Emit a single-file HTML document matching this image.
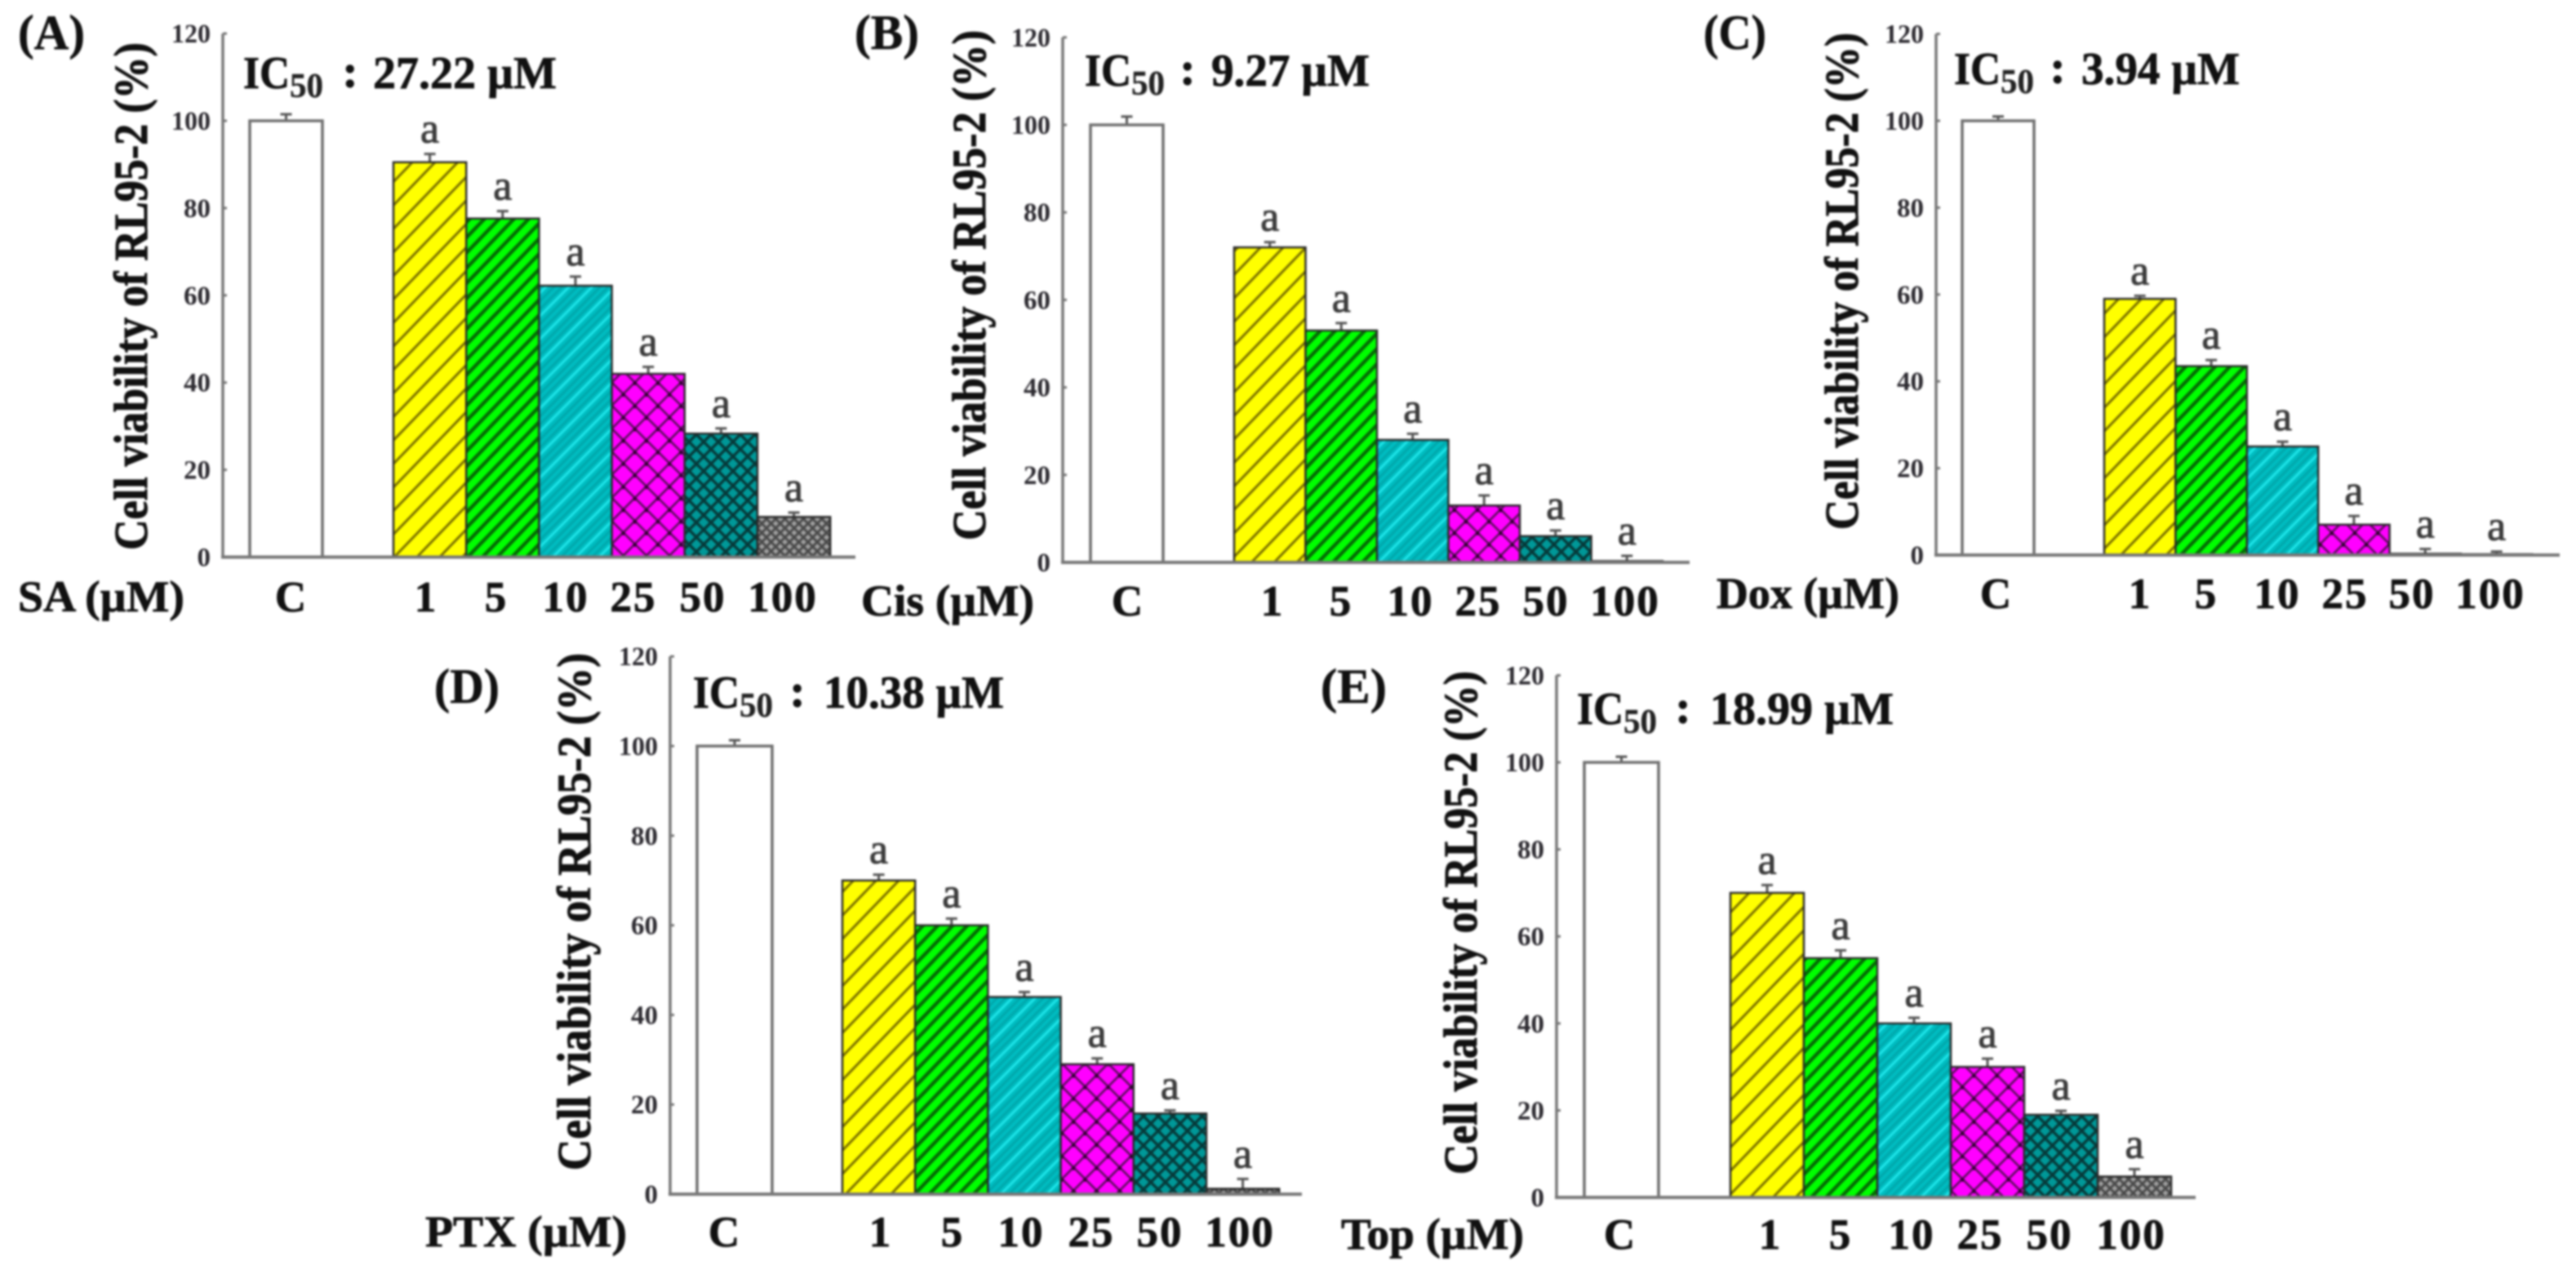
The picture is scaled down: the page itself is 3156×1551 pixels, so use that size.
<!DOCTYPE html>
<html lang="en">
<head>
<meta charset="utf-8">
<title>Cell viability of RL95-2</title>
<style>
html,body{margin:0;padding:0;background:#fff;width:3156px;height:1551px;overflow:hidden}
#figure{display:block;filter:blur(1.3px)}
text{font-family:"Liberation Serif","DejaVu Serif",serif}
</style>
</head>
<body>
<svg id="figure" xmlns="http://www.w3.org/2000/svg" width="3156" height="1551" viewBox="0 0 3156 1551">
<defs>
<pattern id="hatch-yellow" patternUnits="userSpaceOnUse" width="20" height="20" patternTransform="rotate(44)">
<rect width="20" height="20" fill="#ffff00"/><rect y="0" width="3" height="20" fill="#7a7000"/>
</pattern>
<pattern id="hatch-green" patternUnits="userSpaceOnUse" width="13" height="13" patternTransform="rotate(44)">
<rect width="13" height="13" fill="#00ff00"/><rect y="0" width="4.5" height="13" fill="#056b05"/>
</pattern>
<pattern id="hatch-cyan" patternUnits="userSpaceOnUse" width="20" height="20" patternTransform="rotate(45)">
<rect width="20" height="20" fill="#00bcc0"/><rect y="0" width="3" height="20" fill="#1fe4e8"/><rect x="7" width="3" height="20" fill="#00a8ac"/><rect x="14" width="3" height="20" fill="#00a8ac"/>
</pattern>
<pattern id="hatch-magenta" patternUnits="userSpaceOnUse" width="20" height="20" patternTransform="rotate(45)">
<rect width="20" height="20" fill="#ff00ff"/><rect width="2.6" height="20" fill="#5a105a"/><rect width="20" height="2.6" fill="#5a105a"/><rect width="5" height="5" x="-1" y="-1" fill="#300030"/>
</pattern>
<pattern id="hatch-teal" patternUnits="userSpaceOnUse" width="12.7" height="12.7" patternTransform="rotate(45)">
<rect width="12.7" height="12.7" fill="#009898"/><rect width="3.5" height="12.7" fill="#063a3a"/><rect width="12.7" height="3.5" fill="#063a3a"/>
</pattern>
<pattern id="hatch-gray" patternUnits="userSpaceOnUse" width="8" height="8" patternTransform="rotate(45)">
<rect width="8" height="8" fill="#a0a0a0"/><rect width="3" height="8" fill="#4a4a4a"/><rect width="8" height="3" fill="#4a4a4a"/>
</pattern>
</defs>
</svg>
<script>
var categories = ['C', '1', '5', '10', '25', '50', '100'];
var yTickValues = [0, 20, 40, 60, 80, 100, 120];
var yAxisTitle = 'Cell viability of RL95-2 (%)';

var saValues  = [100, 90.5, 77.6, 62.2, 42, 28.3, 9.2];
var saErrors  = [1.5, 1.9, 1.7, 2.1, 1.6, 1.2, 1];
var cisValues = [100, 72, 53, 28, 13, 6, 0.3];
var cisErrors = [1.9, 1.2, 1.7, 1.4, 2.3, 1.3, 1.2];
var doxValues = [100, 59, 43.5, 25, 7, 0.3, 0.2];
var doxErrors = [1, 0.7, 1.4, 1.1, 2, 1.1, 0.6];
var ptxValues = [100, 70, 60, 44, 29, 18, 1.2];
var ptxErrors = [1.3, 1.3, 1.5, 1.1, 1.3, 0.7, 2.2];
var topValues = [100, 70, 55, 40, 30, 19, 4.8];
var topErrors = [1.3, 1.8, 1.8, 1.3, 1.9, 0.9, 1.7];

var significanceLetters = ['', 'a', 'a', 'a', 'a', 'a', 'a'];
var barFills = ['#ffffff', 'url(#hatch-yellow)', 'url(#hatch-green)', 'url(#hatch-cyan)', 'url(#hatch-magenta)', 'url(#hatch-teal)', 'url(#hatch-gray)'];

/* Panel layout only: axes frames and text anchors. Data stays in the arrays above. */
var panels = [
  {key:'a', tag:'(A)', treatment:'SA (\u00b5M)', ic:'27.22 \u00b5M', values:saValues, errors:saErrors,
   axisX:273, axisEnd:1048, y0:682.5, unit:5.345, cLeft:306, cWidth:89, barLeft:482, barWidth:89.2,
   catX:[357,522,608,693,776,861,959], catY:749,
   tagX:22, tagW:82, tagY:60, prefixX:22, prefixW:204, titleX:180, titleBottom:674, titleTop:52,
   icX:298, icY:108, colonX:429, icValX:457, icValW:225},
  {key:'b', tag:'(B)', treatment:'Cis (\u00b5M)', ic:'9.27 \u00b5M', values:cisValues, errors:cisErrors,
   axisX:1302, axisEnd:2070, y0:689, unit:5.36, cLeft:1336, cWidth:89, barLeft:1512, barWidth:87.5,
   catX:[1382,1559,1643,1728,1811,1894,1991], catY:754,
   tagX:1047, tagW:79, tagY:60, prefixX:1055, prefixW:212, titleX:1207, titleBottom:662, titleTop:37,
   icX:1329, icY:105, colonX:1455, icValX:1484, icValW:194},
  {key:'c', tag:'(C)', treatment:'Dox (\u00b5M)', ic:'3.94 \u00b5M', values:doxValues, errors:doxErrors,
   axisX:2372, axisEnd:3136, y0:680, unit:5.32, cLeft:2404, cWidth:88, barLeft:2578, barWidth:87.4,
   catX:[2446,2622,2703,2790,2873,2955,3051], catY:745,
   tagX:2087, tagW:77, tagY:60, prefixX:2103, prefixW:224, titleX:2276, titleBottom:649, titleTop:40,
   icX:2394, icY:103, colonX:2521, icValX:2550, icValW:194},
  {key:'d', tag:'(D)', treatment:'PTX (\u00b5M)', ic:'10.38 \u00b5M', values:ptxValues, errors:ptxErrors,
   axisX:821, axisEnd:1595, y0:1463, unit:5.49, cLeft:854, cWidth:92, barLeft:1032, barWidth:89.2,
   catX:[888,1079,1167,1251,1337,1421,1519], catY:1527,
   tagX:532, tagW:80, tagY:861, prefixX:521, prefixW:247, titleX:723, titleBottom:1434, titleTop:800,
   icX:849, icY:867, colonX:977, icValX:1009, icValW:221},
  {key:'e', tag:'(E)', treatment:'Top (\u00b5M)', ic:'18.99 \u00b5M', values:topValues, errors:topErrors,
   axisX:1907, axisEnd:2690, y0:1467, unit:5.33, cLeft:1941, cWidth:91, barLeft:2120, barWidth:90,
   catX:[1985,2169,2255,2342,2426,2511,2611], catY:1530,
   tagX:1618, tagW:81, tagY:861, prefixX:1643, prefixW:224, titleX:1809, titleBottom:1439, titleTop:822,
   icX:1932, icY:887, colonX:2062, icValX:2095, icValW:225}
];

var SVG_NS = 'http://www.w3.org/2000/svg';
var root = document.getElementById('figure');

function yScale(p, v) { return p.y0 - v * p.unit; }
function xLeft(p, i) { return i === 0 ? p.cLeft : p.barLeft + (i - 1) * p.barWidth; }
function bandWidth(p, i) { return i === 0 ? p.cWidth : p.barWidth; }

function makeEl(parent, tag) {
  var el = document.createElementNS(SVG_NS, tag);
  parent.appendChild(el);
  return el;
}
function makeLine(parent, x1, y1, x2, y2, color, w) {
  var l = makeEl(parent, 'line');
  l.setAttribute('x1', x1); l.setAttribute('y1', y1);
  l.setAttribute('x2', x2); l.setAttribute('y2', y2);
  l.setAttribute('stroke', color); l.setAttribute('stroke-width', w);
  return l;
}
function makeText(parent, str, x, y, size, weight, anchor, fill, len, thicken) {
  var t = makeEl(parent, 'text');
  t.textContent = str;
  t.setAttribute('x', x); t.setAttribute('y', y);
  t.setAttribute('font-size', size);
  t.setAttribute('font-weight', weight);
  t.setAttribute('text-anchor', anchor);
  t.setAttribute('fill', fill);
  if (thicken) {
    t.setAttribute('stroke', fill);
    t.setAttribute('stroke-width', thicken);
  }
  if (len) {
    t.setAttribute('textLength', len);
    t.setAttribute('lengthAdjust', 'spacingAndGlyphs');
  }
  return t;
}

panels.forEach(function (p) {
  var g = makeEl(root, 'g');
  
  

  var tagText = makeText(g, p.tag, p.tagX, p.tagY, 60, 'bold', 'start', '#111', p.tagW, 0.6);
  
  

  var title = makeText(g, yAxisTitle, p.titleX, p.titleBottom, 58, 'bold', 'start', '#111', p.titleBottom - p.titleTop, 1);
  title.setAttribute('transform', 'rotate(-90 ' + p.titleX + ' ' + p.titleBottom + ')');
  
  

  /* IC50 annotation */
  var icText = makeText(g, 'IC', p.icX, p.icY, 56, 'bold', 'start', '#111', 57, 0.8);
  
  

  var icSub = makeText(g, '50', p.icX + 57, p.icY + 11, 42, 'bold', 'start', '#222', 41, 0.4);
  
  

  var icColon = makeText(g, ':', p.colonX, p.icY - 2, 56, 'bold', 'middle', '#111', 0, 1.2);
  
  

  var icVal = makeText(g, p.ic, p.icValX, p.icY, 56, 'bold', 'start', '#111', p.icValW, 0.8);
  
  

  /* Bars, error bars, letters */
  categories.forEach(function (cat, i) {
    var v = p.values[i];
    var e = p.errors[i];
    var x = xLeft(p, i);
    var w = bandWidth(p, i);
    var cx = x + w / 2;
    var top = yScale(p, v);
    var errTop = yScale(p, v + e);

    var errLine = makeLine(g, cx, top, cx, errTop, '#555', 3);
    
    

    var errCap = makeLine(g, cx - 7, errTop, cx + 7, errTop, '#555', 3);
    
    

    var bar = makeEl(g, 'rect');
    bar.setAttribute('x', x);
    bar.setAttribute('y', top);
    bar.setAttribute('width', w);
    bar.setAttribute('height', p.y0 - top);
    bar.setAttribute('fill', barFills[i]);
    bar.setAttribute('stroke', i === 0 ? '#6f6f6f' : '#2a2a2a');
    bar.setAttribute('stroke-width', i === 0 ? 3.5 : 2.5);
    
    

    if (significanceLetters[i]) {
      var letter = makeText(g, significanceLetters[i], cx, errTop - 14, 52, 'normal', 'middle', '#3c3c3c', 0, 1);
      
      
    }

    var catLabel = makeText(g, cat, p.catX[i], p.catY, 53, 'bold', 'middle', '#111', 0, 0.8);
    catLabel.setAttribute('letter-spacing', '2');
    
    
  });

  var prefix = makeText(g, p.treatment, p.prefixX, p.catY, 54, 'bold', 'start', '#111', p.prefixW, 0.8);
  
  

  /* Axes */
  var yAxis = makeLine(g, p.axisX, yScale(p, 120), p.axisX, p.y0 + 2, '#777', 3.5);
  
  

  var xAxis = makeLine(g, p.axisX - 2, p.y0, p.axisEnd, p.y0, '#777', 4);
  
  

  yTickValues.forEach(function (t) {
    var ty = yScale(p, t);
    var tick = makeLine(g, p.axisX, ty, p.axisX + 5, ty, '#777', 3);
    
    

    var tl = makeText(g, String(t), p.axisX - 15, ty + 11, 33, 'bold', 'end', '#2c2a30', t >= 100 ? 48 : 0, 0);
    
    
  });
});
</script>
</body>
</html>
